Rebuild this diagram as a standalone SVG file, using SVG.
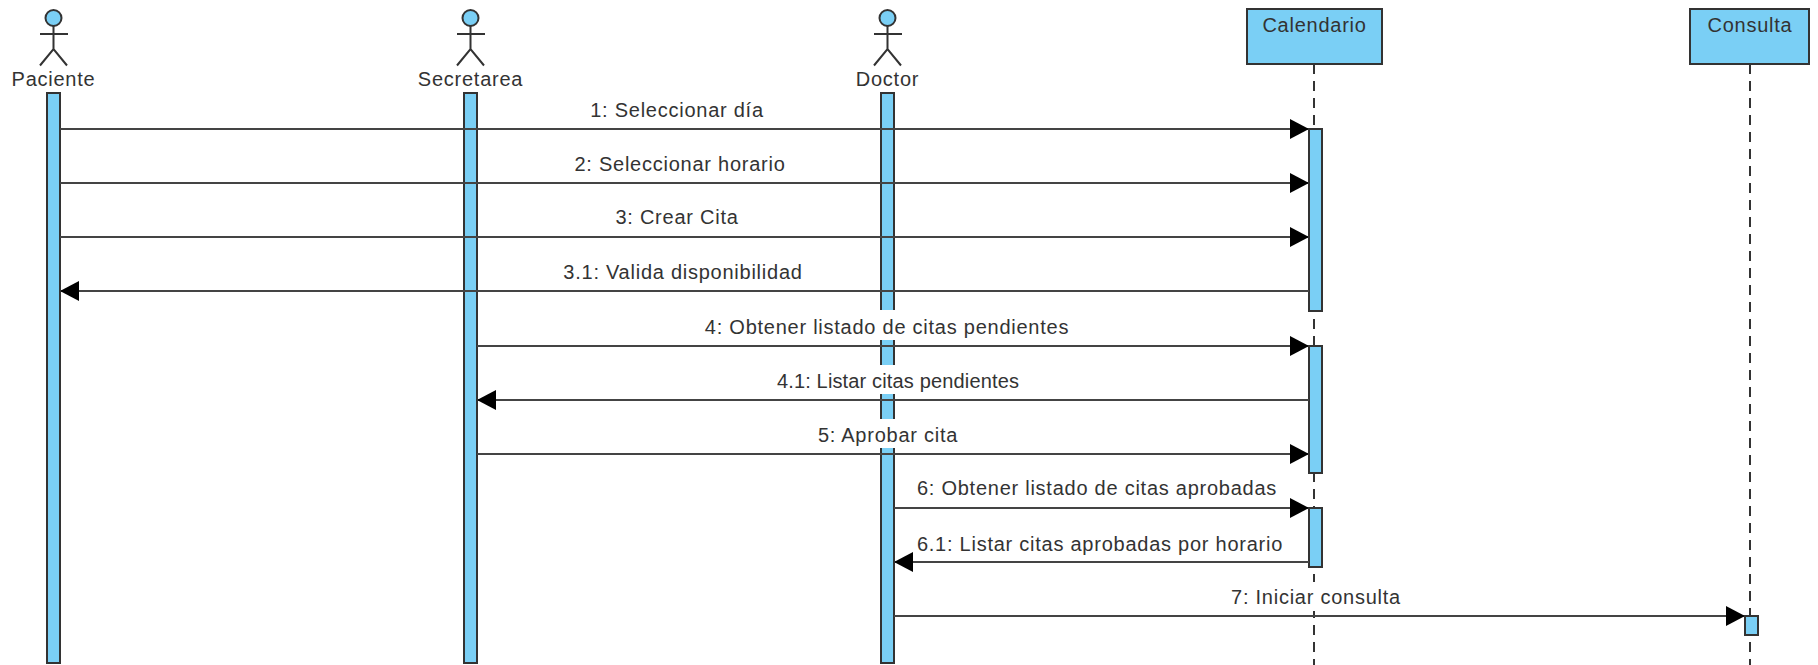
<svg xmlns="http://www.w3.org/2000/svg" width="1818" height="665" viewBox="0 0 1818 665">
<style>
text{font-family:"Liberation Sans",Arial,sans-serif;font-size:20px;letter-spacing:.75px;fill:#333;text-anchor:middle}
.f{fill:#7ACFF5;stroke:#333;stroke-width:2}
.s{fill:none;stroke:#333;stroke-width:2}
.l{fill:none;stroke:#333;stroke-width:2;stroke-dasharray:10 7}
.m{fill:none;stroke:#444;stroke-width:2}
.w{fill:#fff}
</style>
<defs>
<marker id="a" markerUnits="userSpaceOnUse" markerWidth="20" markerHeight="22" refX="19" refY="10" orient="auto"><path d="M0 0L19 10L0 20Z" fill="#000"/></marker>
</defs>
<rect width="1818" height="665" fill="#fff"/>
<g id="lifelines">
<path class="l" d="M1314 64V665"/>
<path class="l" d="M1750 64V665"/>
</g>
<g id="paciente"><circle class="f" cx="53.500" cy="18" r="8"/><path class="s" d="M53.500 26V49M40 34H68M40 65.500L53.500 49L67 65.500"/><text x="53.500" y="86">Paciente</text><rect class="f" x="47" y="93" width="13" height="570"/></g>
<g id="secretarea"><circle class="f" cx="470.500" cy="18" r="8"/><path class="s" d="M470.500 26V49M457 34H485M457 65.500L470.500 49L484 65.500"/><text x="470.500" y="86">Secretarea</text><rect class="f" x="464" y="93" width="13" height="570"/></g>
<g id="doctor"><circle class="f" cx="887.500" cy="18" r="8"/><path class="s" d="M887.500 26V49M874 34H902M874 65.500L887.500 49L901 65.500"/><text x="887.500" y="86">Doctor</text><rect class="f" x="881" y="93" width="13" height="570"/></g>
<g id="calendario"><rect class="f" x="1247" y="9" width="135" height="55"/><text x="1314.500" y="32">Calendario</text>
<rect class="f" x="1309" y="129" width="13" height="182"/><rect class="f" x="1309" y="346" width="13" height="127"/><rect class="f" x="1309" y="508" width="13" height="59"/></g>
<g id="consulta"><rect class="f" x="1690" y="9" width="119" height="55"/><text x="1750" y="32">Consulta</text><rect class="f" x="1745" y="616" width="13" height="19"/></g>
<g id="masks">
<rect class="w" x="700" y="310" width="375" height="30"/>
<rect class="w" x="770" y="365" width="260" height="29"/>
<rect class="w" x="815" y="419" width="150" height="29"/>
<rect class="w" x="1230" y="582" width="180" height="29"/>
</g>
<g id="connectors">
<path class="m" marker-end="url(#a)" d="M60 129H1309"/>
<path class="m" marker-end="url(#a)" d="M60 183H1309"/>
<path class="m" marker-end="url(#a)" d="M60 237H1309"/>
<path class="m" marker-end="url(#a)" d="M1309 291H60"/>
<path class="m" marker-end="url(#a)" d="M477 346H1309"/>
<path class="m" marker-end="url(#a)" d="M1309 400H477"/>
<path class="m" marker-end="url(#a)" d="M477 454H1309"/>
<path class="m" marker-end="url(#a)" d="M894 508H1309"/>
<path class="m" marker-end="url(#a)" d="M1309 562H894"/>
<path class="m" marker-end="url(#a)" d="M894 616H1745"/>
</g>
<g id="labels">
<text x="677" y="117">1: Seleccionar día</text>
<text x="680" y="171">2: Seleccionar horario</text>
<text x="677" y="224">3: Crear Cita</text>
<text x="683" y="279">3.1: Valida disponibilidad</text>
<text x="887" y="334">4: Obtener listado de citas pendientes</text>
<text x="898" y="388" style="letter-spacing:.15px">4.1: Listar citas pendientes</text>
<text x="888" y="442">5: Aprobar cita</text>
<text x="1097" y="495">6: Obtener listado de citas aprobadas</text>
<text x="1100" y="551">6.1: Listar citas aprobadas por horario</text>
<text x="1316" y="604">7: Iniciar consulta</text>
</g>
</svg>
